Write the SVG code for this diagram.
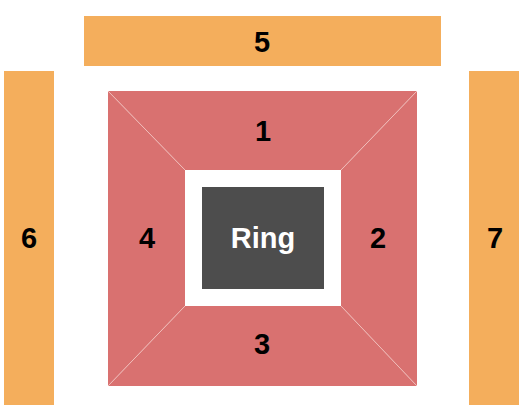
<svg xmlns="http://www.w3.org/2000/svg" width="525" height="420" viewBox="0 0 525 420">
<style>
.or{fill:#f4ae5c}
.rd{fill:#d97170}
.sep{stroke:#f3c8c4;stroke-width:0.8;fill:none}
.lb{font-family:"Liberation Sans",Arial,sans-serif;font-weight:bold;font-size:29px;fill:#000;text-anchor:middle}
.rg{font-family:"Liberation Sans",Arial,sans-serif;font-weight:bold;font-size:29px;fill:#fff;text-anchor:middle}
</style>
<rect width="525" height="420" fill="#fff"/>
<g id="sec5"><rect class="or" x="84" y="16" width="357" height="50"/><text class="lb" x="262" y="52">5</text></g>
<g id="sec6"><rect class="or" x="4" y="71" width="50" height="334"/><text class="lb" x="29" y="248">6</text></g>
<g id="sec7"><rect class="or" x="469" y="71" width="50" height="334"/><text class="lb" x="495" y="248">7</text></g>
<g id="sec1"><polygon class="rd" points="108,91 417,91 341,170 185,170"/><text class="lb" x="263" y="141">1</text></g>
<g id="sec2"><polygon class="rd" points="417,91 417,386 341,306 341,170"/><text class="lb" x="378" y="248">2</text></g>
<g id="sec3"><polygon class="rd" points="108,386 417,386 341,306 185,306"/><text class="lb" x="262" y="354">3</text></g>
<g id="sec4"><polygon class="rd" points="108,91 185,170 185,306 108,386"/><text class="lb" x="147" y="248">4</text></g>
<g id="connectors">
<line class="sep" x1="108" y1="91" x2="185" y2="170"/>
<line class="sep" x1="417" y1="91" x2="341" y2="170"/>
<line class="sep" x1="417" y1="386" x2="341" y2="306"/>
<line class="sep" x1="108" y1="386" x2="185" y2="306"/>
</g>
<g id="ring"><rect x="202" y="187" width="122" height="102" fill="#4d4d4d"/><text class="rg" x="263" y="248">Ring</text></g>
</svg>
